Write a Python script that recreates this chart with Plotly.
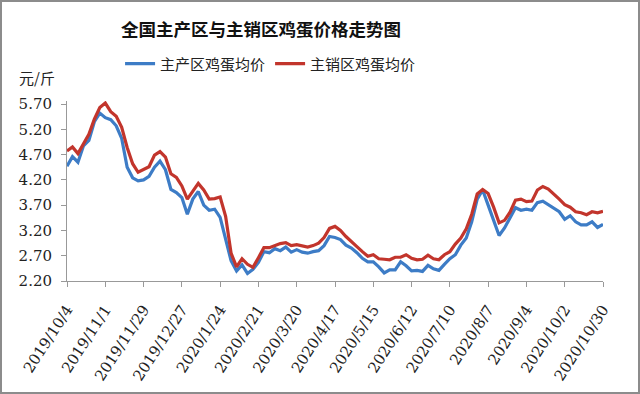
import pandas as pd
import plotly.graph_objects as go

# ---- data ----
dates = pd.date_range("2019-10-04", periods=99, freq="4D")

production_area = [  # 主产区鸡蛋均价 (blue)
    4.47, 4.66, 4.55, 4.87, 4.98, 5.35, 5.52, 5.43, 5.39, 5.27,
    5.02, 4.45, 4.24, 4.18, 4.20, 4.27, 4.45, 4.57, 4.40, 4.01,
    3.95, 3.85, 3.52, 3.82, 3.97, 3.70, 3.60, 3.62, 3.46, 3.06,
    2.60, 2.40, 2.52, 2.35, 2.43, 2.57, 2.78, 2.76, 2.84, 2.80,
    2.87, 2.77, 2.82, 2.77, 2.75, 2.78, 2.80, 2.90, 3.08, 3.06,
    3.02, 2.91, 2.85, 2.76, 2.65, 2.58, 2.58, 2.48, 2.36, 2.42,
    2.42, 2.58, 2.50, 2.40, 2.41, 2.39, 2.51, 2.44, 2.41, 2.53,
    2.64, 2.72, 2.91, 3.05, 3.37, 3.82, 4.00, 3.70, 3.40, 3.10,
    3.25, 3.44, 3.65, 3.60, 3.62, 3.60, 3.75, 3.78, 3.71, 3.64,
    3.57, 3.42, 3.49, 3.37, 3.31, 3.31, 3.37, 3.26, 3.32,
]

sales_area = [  # 主销区鸡蛋均价 (red)
    4.77, 4.85, 4.72, 4.92, 5.10, 5.40, 5.63, 5.72, 5.55, 5.46,
    5.24, 4.84, 4.52, 4.35, 4.41, 4.46, 4.69, 4.76, 4.65, 4.32,
    4.25, 4.08, 3.82, 3.98, 4.13, 4.00, 3.82, 3.83, 3.86, 3.48,
    2.75, 2.48, 2.64, 2.53, 2.47, 2.66, 2.86, 2.86, 2.90, 2.94,
    2.96, 2.90, 2.92, 2.89, 2.87, 2.90, 2.95, 3.06, 3.24, 3.28,
    3.20, 3.08, 2.97, 2.88, 2.78, 2.69, 2.72, 2.64, 2.63, 2.62,
    2.67, 2.67, 2.72, 2.65, 2.62, 2.63, 2.71, 2.64, 2.62, 2.72,
    2.78, 2.93, 3.05, 3.23, 3.52, 3.92, 4.01, 3.93, 3.66, 3.35,
    3.40, 3.56, 3.80, 3.82, 3.77, 3.78, 4.00, 4.07, 4.02, 3.93,
    3.82, 3.71, 3.66, 3.57, 3.55, 3.51, 3.57, 3.55, 3.58,
]

tick_dates = pd.date_range("2019-10-04", periods=15, freq="28D")
tick_labels = [
    "2019/10/4", "2019/11/1", "2019/11/29", "2019/12/27", "2020/1/24",
    "2020/2/21", "2020/3/20", "2020/4/17", "2020/5/15", "2020/6/12",
    "2020/7/10", "2020/8/7", "2020/9/4", "2020/10/2", "2020/10/30",
]
y_ticks = [2.20, 2.70, 3.20, 3.70, 4.20, 4.70, 5.20, 5.70]

NUM_FONT = "DejaVu Serif, Noto Sans CJK SC, serif"
CJK_FONT = "Noto Sans CJK SC"

fig = go.Figure()
fig.add_trace(go.Scatter(
    x=dates, y=production_area, mode="lines", name="主产区鸡蛋均价",
    line=dict(color="#3d7cc6", width=3.2),
))
fig.add_trace(go.Scatter(
    x=dates, y=sales_area, mode="lines", name="主销区鸡蛋均价",
    line=dict(color="#c2352c", width=3.2),
))

fig.update_layout(
    width=640, height=394,
    margin=dict(l=67, r=37, t=101, b=113, autoexpand=False),
    paper_bgcolor="white", plot_bgcolor="white",
    font=dict(family=NUM_FONT, size=14, color="#222"),
    title=dict(
        text="<b>全国主产区与主销区鸡蛋价格走势图</b>",
        x=261 / 640, xanchor="center", y=1 - 30 / 394, yanchor="middle",
        font=dict(size=17.5, family=CJK_FONT, color="#111"),
    ),
    legend=dict(
        orientation="h", x=0.099, xanchor="left", y=1.206, yanchor="middle",
        font=dict(size=15, family=CJK_FONT, color="#222"),
        itemwidth=30, tracegroupgap=0,
    ),
    showlegend=True,
)

fig.update_xaxes(
    type="date",
    range=[dates[0], pd.Timestamp("2020-10-30")],
    tickvals=tick_dates, ticktext=tick_labels, tickangle=-57,
    ticks="outside", ticklen=5, tickcolor="#999",
    showline=True, linecolor="#999", linewidth=1,
    showgrid=False, zeroline=False, automargin=False,
    ticklabelstandoff=8,
    tickfont=dict(size=15, family=NUM_FONT, color="#222"),
)
fig.update_yaxes(
    range=[2.2, 5.76], tickvals=y_ticks, tickformat=".2f",
    ticks="outside", ticklen=5, tickcolor="#999",
    showline=True, linecolor="#999", linewidth=1,
    showgrid=False, zeroline=False, automargin=False,
    ticklabelstandoff=6,
    tickfont=dict(size=15, family=NUM_FONT, color="#222"),
)

fig.add_annotation(
    text="元/斤", xref="paper", yref="paper",
    x=-30 / 536, y=(281 - 77) / 180, xanchor="center", yanchor="middle",
    showarrow=False, font=dict(size=15, family=CJK_FONT, color="#222"),
)

# outer chart frame
fig.add_shape(
    type="rect", xref="paper", yref="paper",
    x0=-66 / 536, x1=1 + 36 / 536, y0=-112 / 180, y1=1 + 100 / 180,
    line=dict(color="#8c8c8c", width=2), fillcolor="rgba(0,0,0,0)", layer="below",
)

fig.write_html(
    "out.html",
    config={"displayModeBar": False},
    post_script="document.body.style.margin='0';document.body.style.overflow='hidden';",
)
